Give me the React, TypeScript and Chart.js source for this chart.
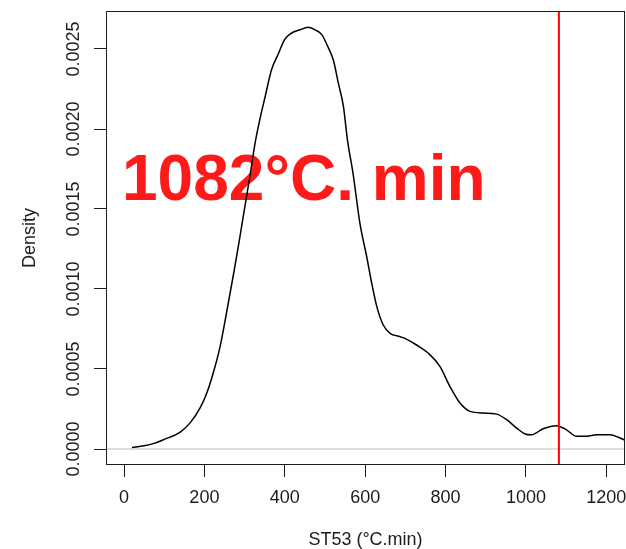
import React, { useEffect, useRef } from "react";
import { Chart, registerables } from "chart.js";

Chart.register(...registerables);

// ---- data ----
const densityX = [
  20, 50, 75, 100, 140, 165, 190, 206, 222, 239, 255, 273, 288, 301, 313, 326,
  338, 351, 367, 384, 400, 417, 438, 458, 475, 492, 508, 521, 533, 546, 556,
  570, 587, 604, 616, 629, 645, 662, 687, 700, 728, 761, 786, 811, 836, 861,
  894, 927, 952, 977, 998, 1014, 1043, 1076, 1101, 1126, 1151, 1176, 1209,
  1234, 1260,
];
const densityY = [
  0.00001, 0.00002, 0.000035, 0.00006, 0.000106, 0.000165, 0.00026, 0.00035,
  0.000475, 0.00064, 0.00085, 0.0011, 0.00132, 0.00152, 0.0017, 0.00191,
  0.00206, 0.0022, 0.00237, 0.00247, 0.00256, 0.0026, 0.00262, 0.002636,
  0.00262, 0.00259, 0.00251, 0.00243, 0.00229, 0.00214, 0.00193, 0.00172,
  0.00141, 0.0012, 0.00104, 0.00089, 0.000775, 0.000723, 0.000702, 0.00069,
  0.00065, 0.00059, 0.000516, 0.00039, 0.000287, 0.000235, 0.000225,
  0.000218, 0.000183, 0.000131, 0.000094, 0.000089, 0.000127, 0.000146,
  0.00012, 0.000079, 0.000079, 0.000089, 0.000089, 0.000069, 0.00004,
];
const xTickValues = [0, 200, 400, 600, 800, 1000, 1200];
const yTickValues = [0, 0.0005, 0.001, 0.0015, 0.002, 0.0025];
const xRange = [-44.8, 1246.5];
const yRange = [-0.0001, 0.0027375];
const cutValue = 1082;
const baselineValue = 0;
const annotationText = "1082°C. min";
const xTitle = "ST53 (°C.min)";
const yTitle = "Density";

const FONT = '"Liberation Sans", Arial, Helvetica, sans-serif';
const INK = "#1c1c1c";

export default function App() {
  const ref = useRef<HTMLCanvasElement | null>(null);

  useEffect(() => {
    if (!ref.current) return;
    document.body.style.margin = "0";

    const boxPlugin = {
      id: "rbox",
      afterDraw(chart: any) {
        const { ctx, chartArea } = chart;
        ctx.save();
        ctx.strokeStyle = INK;
        ctx.lineWidth = 1;
        ctx.strokeRect(
          Math.round(chartArea.left) + 0.5,
          Math.round(chartArea.top) + 0.5,
          Math.round(chartArea.right - chartArea.left) - 1,
          Math.round(chartArea.bottom - chartArea.top) - 1
        );
        ctx.restore();
      },
    };

    const textPlugin = {
      id: "bigText",
      beforeDatasetsDraw(chart: any) {
        const { ctx } = chart;
        ctx.save();
        ctx.font = `bold 64px ${FONT}`;
        ctx.fillStyle = "#ff1a1a";
        ctx.textBaseline = "alphabetic";
        ctx.textAlign = "left";
        ctx.fillText(annotationText, 122, 200);
        ctx.restore();
      },
    };

    const curve = densityX.map((x, i) => ({ x, y: densityY[i] }));

    const chart = new Chart(ref.current, {
      type: "line",
      data: {
        datasets: [
          {
            data: [
              { x: cutValue, y: yRange[0] },
              { x: cutValue, y: yRange[1] },
            ],
            borderColor: "#ff0000",
            borderWidth: 2,
            pointRadius: 0,
          },
          {
            data: curve,
            borderColor: "#000000",
            borderWidth: 1.5,
            pointRadius: 0,
            cubicInterpolationMode: "monotone",
          },
          {
            data: [
              { x: xRange[0], y: baselineValue },
              { x: xRange[1], y: baselineValue },
            ],
            borderColor: "#bdbdbd",
            borderWidth: 1,
            pointRadius: 0,
          },
        ],
      },
      options: {
        animation: false,
        responsive: false,
        devicePixelRatio: 1,
        layout: { padding: { top: 11, right: 1, left: 0, bottom: 0 } },
        plugins: {
          legend: { display: false },
          tooltip: { enabled: false },
        },
        scales: {
          x: {
            type: "linear",
            min: xRange[0],
            max: xRange[1],
            afterBuildTicks: (s: any) => {
              s.ticks = xTickValues.map((v) => ({ value: v }));
            },
            afterFit: (s: any) => {
              s.height = 84;
              s.paddingLeft = 0;
              s.paddingRight = 0;
              s.paddingTop = 0;
              s.paddingBottom = 0;
            },
            ticks: {
              autoSkip: false,
              maxRotation: 0,
              minRotation: 0,
              padding: 10.5,
              color: INK,
              font: { family: FONT, size: 18 },
              callback: (v: any) => String(v),
            },
            grid: {
              drawOnChartArea: false,
              drawTicks: true,
              tickLength: 12,
              tickColor: INK,
              tickWidth: 1,
            },
            border: { display: false },
            title: {
              display: true,
              text: xTitle,
              color: INK,
              font: { family: FONT, size: 18 },
              padding: { top: 0, bottom: -2 },
            },
          },
          y: {
            type: "linear",
            min: yRange[0],
            max: yRange[1],
            afterBuildTicks: (s: any) => {
              s.ticks = yTickValues.map((v) => ({ value: v }));
            },
            afterFit: (s: any) => {
              s.width = 106;
              s.paddingLeft = 0;
              s.paddingRight = 0;
              s.paddingTop = 0;
              s.paddingBottom = 0;
            },
            ticks: {
              autoSkip: false,
              minRotation: 90,
              maxRotation: 90,
              crossAlign: "center",
              padding: -7.5,
              color: INK,
              font: { family: FONT, size: 18 },
              callback: (v: any) => Number(v).toFixed(4),
            },
            grid: {
              drawOnChartArea: false,
              drawTicks: true,
              tickLength: 12,
              tickColor: INK,
              tickWidth: 1,
            },
            border: { display: false },
            title: {
              display: true,
              text: yTitle,
              color: INK,
              font: { family: FONT, size: 18 },
              padding: { top: 19, bottom: 0 },
            },
          },
        },
      },
      plugins: [textPlugin, boxPlugin],
    } as any);

    return () => chart.destroy();
  }, []);

  return (
    <div style={{ position: "fixed", left: 0, top: 0, width: 626, height: 549 }}>
      <canvas ref={ref} width={626} height={549} />
    </div>
  );
}
